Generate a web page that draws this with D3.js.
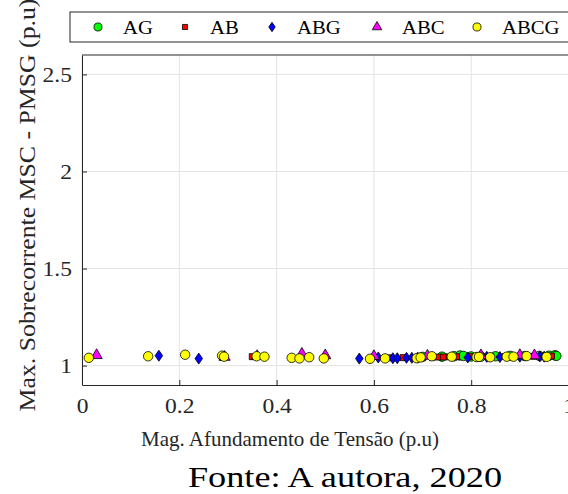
<!DOCTYPE html>
<html>
<head>
<meta charset="utf-8">
<script src="https://cdn.jsdelivr.net/npm/d3@7"></script>
<style>
  body { margin: 0; background: #fff; }
  svg { display: block; }
</style>
</head>
<body>
<div id="chart"></div>
<script>
//---------------------------------- Data --------------------
// x = Mag. afundamento (p.u), y = max sobrecorrente (p.u)
var ag_x = [0.70, 0.74, 0.765, 0.777, 0.784, 0.80, 0.82, 0.85, 0.88, 0.91, 0.94, 0.96, 0.972, 0.975];
var ag_y = [1.045, 1.046, 1.048, 1.052, 1.050, 1.047, 1.046, 1.048, 1.050, 1.049, 1.050, 1.051, 1.053, 1.050];

var ab_x = [0.29, 0.35, 0.63, 0.66, 0.70, 0.72, 0.733, 0.743, 0.755, 0.77, 0.80, 0.84, 0.87, 0.90, 0.928, 0.945, 0.965];
var ab_y = [1.045, 1.046, 1.040, 1.041, 1.042, 1.043, 1.044, 1.044, 1.045, 1.046, 1.046, 1.047, 1.047, 1.048, 1.048, 1.049, 1.049];

var abg_x = [0.158, 0.240, 0.570, 0.609, 0.639, 0.648, 0.667, 0.678, 0.690, 0.793, 0.832, 0.859, 0.90, 0.941, 0.95];
var abg_y = [1.051, 1.036, 1.036, 1.042, 1.038, 1.038, 1.040, 1.040, 1.041, 1.042, 1.045, 1.044, 1.046, 1.047, 1.046];

var abc_x = [0.030, 0.293, 0.36, 0.452, 0.50, 0.60, 0.71, 0.82, 0.90, 0.93];
var abc_y = [1.053, 1.044, 1.048, 1.060, 1.052, 1.048, 1.050, 1.052, 1.053, 1.052];

var abcg_x = [0.014, 0.136, 0.212, 0.288, 0.292, 0.359, 0.375, 0.431, 0.447, 0.467, 0.497, 0.592, 0.623, 0.688, 0.696, 0.719, 0.760, 0.811, 0.816, 0.839, 0.873, 0.887, 0.914, 0.955];
var abcg_y = [1.040, 1.048, 1.056, 1.051, 1.046, 1.048, 1.046, 1.040, 1.037, 1.043, 1.037, 1.035, 1.037, 1.038, 1.042, 1.048, 1.046, 1.044, 1.045, 1.043, 1.046, 1.046, 1.049, 1.045];

var series_names = ["AG", "AB", "ABG", "ABC", "ABCG"];
var series_x = [ag_x, ab_x, abg_x, abc_x, abcg_x];
var series_y = [ag_y, ab_y, abg_y, abc_y, abcg_y];

var x_ticks = [0, 0.2, 0.4, 0.6, 0.8, 1];
var y_ticks = [1, 1.5, 2, 2.5];

//---------------------------------- View --------------------
var width = 568, height = 494;
var serif = "'Liberation Serif', 'Times New Roman', serif";
var ink = "#262626";
var colors = ["#00ff00", "#ff0000", "#0000ff", "#ff00ff", "#ffff00"];
var shapes = [d3.symbolCircle, d3.symbolSquare, "diamond", d3.symbolTriangle, d3.symbolCircle];
var sizes = [70, 36, 0, 55, 70];

var svg = d3.select("#chart").append("svg")
    .attr("width", width)
    .attr("height", height);

var x_scale = d3.scaleLinear().domain([0, 1]).range([82, 568.5]);
var y_scale = d3.scaleLinear().domain([0.9, 2.6]).range([385, 55]);

// marker path for series i
function marker(i, k) {
  k = k || 1;
  if (shapes[i] == "diamond") return "M0," + (-5.5*k) + "L" + (3.8*k) + ",0L0," + (5.5*k) + "L" + (-3.8*k) + ",0Z";
  return d3.symbol().type(shapes[i]).size(sizes[i] * k * k)();
}

// the original figure is a bit wider than the font, stretch texts
function stretch(sel, f) {
  sel.each(function(){
    var w = this.getComputedTextLength();
    d3.select(this).attr("textLength", w * f).attr("lengthAdjust", "spacingAndGlyphs");
  });
}

// ---------- grid ----------
svg.append("g").selectAll("line")
    .data(x_ticks).enter().append("line")
    .attr("x1", function(d){ return x_scale(d); })
    .attr("x2", function(d){ return x_scale(d); })
    .attr("y1", y_scale(2.6)).attr("y2", y_scale(0.9))
    .style("stroke", "#e4e4e4").style("stroke-width", 1);

svg.append("g").selectAll("line")
    .data(y_ticks).enter().append("line")
    .attr("x1", x_scale(0)).attr("x2", x_scale(1))
    .attr("y1", function(d){ return y_scale(d); })
    .attr("y2", function(d){ return y_scale(d); })
    .style("stroke", "#e4e4e4").style("stroke-width", 1);

// ---------- axes ----------
var x_axis = d3.axisBottom(x_scale).tickValues(x_ticks).tickSizeInner(-5).tickSizeOuter(0)
    .tickPadding(13).tickFormat(d3.format(""));
var y_axis = d3.axisLeft(y_scale).tickValues(y_ticks).tickSizeInner(-5).tickSizeOuter(0)
    .tickPadding(10).tickFormat(d3.format(""));

var gx = svg.append("g").attr("transform", "translate(0," + y_scale(0.9) + ")").call(x_axis);
var gy = svg.append("g").attr("transform", "translate(" + x_scale(0) + ",0)").call(y_axis);

[gx, gy].forEach(function(g){
  g.attr("font-family", serif).attr("font-size", 21);
  g.select(".domain").style("stroke", ink).style("stroke-width", 1);
  g.selectAll(".tick line").style("stroke", ink);
  g.selectAll(".tick text").attr("fill", ink);
  stretch(g.selectAll(".tick text"), 1.12);
});

// top border
svg.append("line")
    .attr("x1", x_scale(0)).attr("x2", x_scale(1))
    .attr("y1", y_scale(2.6)).attr("y2", y_scale(2.6))
    .style("stroke", ink);

// ---------- points ----------
series_names.forEach(function(name, i){
  var pts = series_x[i].map(function(v, j){ return {x: v, y: series_y[i][j]}; });
  svg.append("g").selectAll("path")
    .data(pts).enter().append("path")
    .attr("d", marker(i))
    .attr("transform", function(d){ return "translate(" + x_scale(d.x) + "," + y_scale(d.y) + ")"; })
    .style("fill", colors[i])
    .style("stroke", "#000")
    .style("stroke-width", 0.8);
});

// ---------- labels ----------
var xlab = svg.append("text")
    .attr("x", 290).attr("y", 446)
    .attr("text-anchor", "middle")
    .attr("font-family", serif).attr("font-size", 21).attr("fill", ink)
    .text("Mag. Afundamento de Tensão (p.u)");
stretch(xlab, 1.0);

var ylab = svg.append("text")
    .attr("transform", "translate(35,205) rotate(-90)")
    .attr("text-anchor", "middle")
    .attr("font-family", serif).attr("font-size", 23).attr("fill", ink)
    .text("Max. Sobrecorrente MSC - PMSG (p.u)");
stretch(ylab, 1.12);

var cap = svg.append("text")
    .attr("x", 345).attr("y", 487)
    .attr("text-anchor", "middle")
    .attr("font-family", serif).attr("font-size", 29).attr("fill", "#000")
    .text("Fonte: A autora, 2020");
stretch(cap, 1.25);

// ---------- legend ----------
var legend = svg.append("g");
legend.append("rect")
    .attr("x", 70).attr("y", 12)
    .attr("width", 520).attr("height", 30)
    .style("fill", "#fff").style("stroke", ink).style("stroke-width", 1);

var leg_x = [98, 185, 272, 377, 477];
series_names.forEach(function(name, i){
  legend.append("path")
    .attr("d", marker(i, 0.85))
    .attr("transform", "translate(" + leg_x[i] + ",27)")
    .style("fill", colors[i]).style("stroke", "#000").style("stroke-width", 0.8);
  var t = legend.append("text")
    .attr("x", leg_x[i] + 25).attr("y", 34)
    .attr("font-family", serif).attr("font-size", 18).attr("fill", "#000")
    .text(name);
  stretch(t, 1.15);
});
</script>
</body>
</html>
